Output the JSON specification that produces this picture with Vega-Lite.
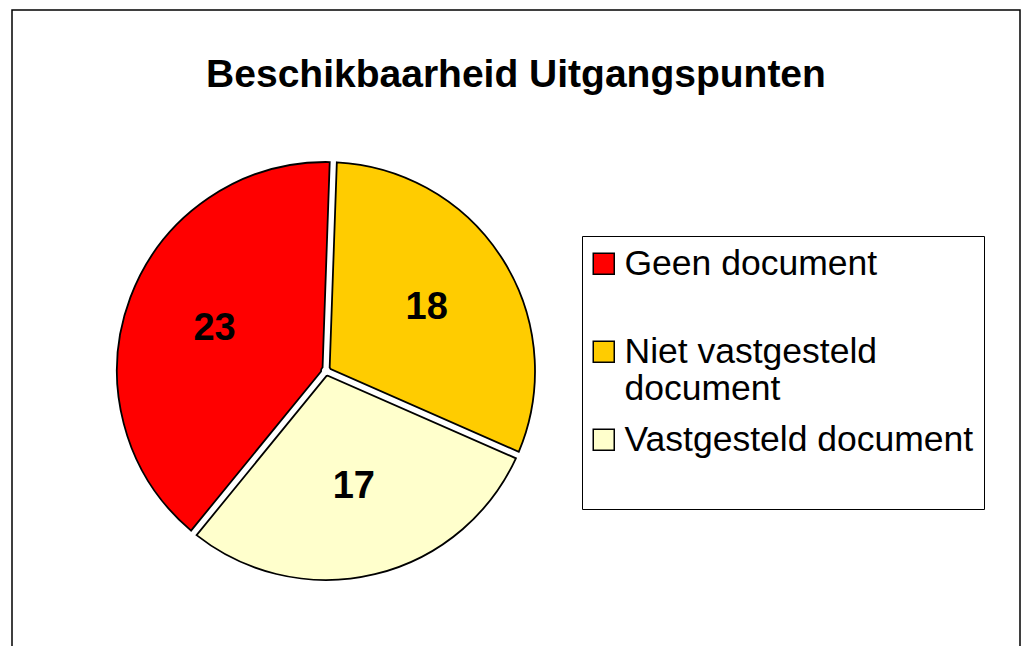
{
  "$schema": "https://vega.github.io/schema/vega-lite/v6.json",
  "width": 1008,
  "height": 700,
  "autosize": "none",
  "padding": {"left": 12, "top": 10, "right": 2, "bottom": 0},
  "background": "white",
  "view": {"stroke": "black", "strokeWidth": 1.5, "fill": "white"},
  "title": {
    "text": "Beschikbaarheid Uitgangspunten",
    "font": "Liberation Sans",
    "fontSize": 39,
    "fontWeight": "bold",
    "color": "black",
    "anchor": "middle",
    "frame": "group",
    "baseline": "alphabetic",
    "offset": -78,
    "dy": 38
  },
  "config": {
    "view": {"stroke": "black", "strokeWidth": 1.5},
    "font": "Liberation Sans"
  },
  "data": {
    "values": [
      {"category": "Geen document", "count": 23},
      {"category": "Niet vastgesteld document", "count": 18},
      {"category": "Vastgesteld document", "count": 17}
    ]
  },
  "encoding": {
    "theta": {
      "field": "count",
      "type": "quantitative",
      "stack": true,
      "scale": {"range": [3.8264, 10.1096]}
    },
    "order": {"field": "category", "type": "nominal"}
  },
  "layer": [
    {
      "mark": {
        "type": "arc",
        "x": 314,
        "y": 361,
        "outerRadius": 209,
        "innerRadius": 5,
        "padAngle": 0.034,
        "stroke": "black",
        "strokeWidth": 1.8
      },
      "encoding": {
        "color": {
          "field": "category",
          "type": "nominal",
          "scale": {
            "domain": ["Geen document", "Niet vastgesteld document", "Vastgesteld document"],
            "range": ["#FF0000", "#FFCC00", "#FFFFCC"]
          },
          "legend": {
            "title": " ",
            "titleOrient": "bottom",
            "titleFontSize": 14,
            "titlePadding": 27,
            "orient": "none",
            "legendX": 570,
            "legendY": 226,
            "fillColor": "white",
            "strokeColor": "black",
            "padding": 10,
            "labelFont": "Liberation Sans",
            "labelFontSize": 35.5,
            "labelColor": "black",
            "labelLimit": 600,
            "labelOffset": 3,
            "symbolOffset": -6,
            "rowPadding": 14,
            "symbolType": "square",
            "symbolSize": 441,
            "symbolStrokeColor": "black",
            "symbolStrokeWidth": 1.5,
            "labelExpr": "datum.label == 'Niet vastgesteld document' ? ['Niet vastgesteld', 'document'] : datum.label == 'Geen document' ? ['Geen document', ''] : datum.label"
          }
        }
      }
    },
    {
      "mark": {
        "type": "text",
        "x": 314,
        "y": 361,
        "radius": 119,
        "font": "Liberation Sans",
        "fontSize": 38,
        "fontWeight": "bold",
        "color": "black"
      },
      "encoding": {
        "text": {"field": "count", "type": "quantitative"}
      }
    }
  ]
}
